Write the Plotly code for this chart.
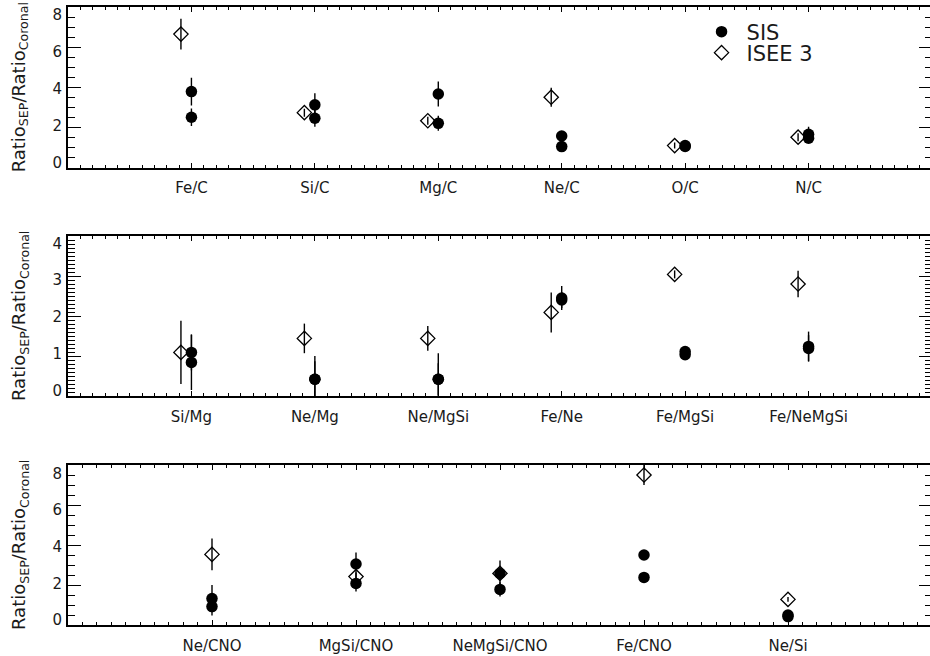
import plotly.graph_objects as go

# ---------------- data ----------------
TOP_CATS = ["Fe/C", "Si/C", "Mg/C", "Ne/C", "O/C", "N/C"]
TOP_SIS_A = [3.79, 3.13, 3.67, 1.58, 1.10, 1.66]
TOP_SIS_A_ERR = [0.69, 0.58, 0.62, 0.20, 0.10, 0.38]
TOP_SIS_B = [2.51, 2.46, 2.21, 1.05, 1.06, 1.47]
TOP_SIS_B_ERR = [0.44, 0.42, 0.37, 0.20, 0.10, 0.20]
TOP_ISEE = [6.65, 2.74, 2.34, 3.51, 1.10, 1.52]
TOP_ISEE_ERR = [0.77, 0.20, 0.20, 0.47, 0.15, 0.20]

MID_CATS = ["Si/Mg", "Ne/Mg", "Ne/MgSi", "Fe/Ne", "Fe/MgSi", "Fe/NeMgSi"]
MID_SIS_A = [1.09, 0.42, 0.42, 2.45, 1.11, 1.24]
MID_SIS_A_ERR = [0.45, 0.58, 0.65, 0.30, 0.08, 0.37]
MID_SIS_B = [0.84, 0.42, 0.42, 2.40, 1.03, 1.19]
MID_SIS_B_ERR = [0.69, 0.45, 0.40, 0.20, 0.08, 0.33]
MID_ISEE = [1.09, 1.44, 1.44, 2.09, 3.04, 2.80]
MID_ISEE_ERR = [0.79, 0.37, 0.31, 0.50, 0.10, 0.33]

BOT_CATS = ["Ne/CNO", "MgSi/CNO", "NeMgSi/CNO", "Fe/CNO", "Ne/Si"]
BOT_SIS_A = [1.32, 3.05, 2.58, 3.50, 0.50]
BOT_SIS_A_ERR = [0.68, 0.58, 0.64, 0.20, 0.10]
BOT_SIS_B = [0.92, 2.08, 1.78, 2.38, 0.42]
BOT_SIS_B_ERR = [0.45, 0.41, 0.36, 0.20, 0.10]
BOT_ISEE = [3.53, 2.42, 2.58, 7.50, 1.28]
BOT_ISEE_ERR = [0.79, 0.20, 0.30, 0.50, 0.12]

Y_TICKS_8 = [0, 2, 4, 6, 8]
Y_TICKS_4 = [0, 1, 2, 3, 4]

# ---------------- styling / layout ----------------
# The figure is 4 px wider than the window; the page clips it so that the
# right-hand frame line falls just outside the view, as in the reference.
W, H = 934, 656
ML, MR, MT, MB = 68, 0, 7, 31
PLOT_W = W - ML - MR
PLOT_H = H - MT - MB
FONT = "DejaVu Sans"
INK = "#000000"
TXT = "#1a1a1a"

panels = [
    dict(cats=TOP_CATS, sa=TOP_SIS_A, sae=TOP_SIS_A_ERR, sb=TOP_SIS_B, sbe=TOP_SIS_B_ERR,
         isee=TOP_ISEE, iseee=TOP_ISEE_ERR, yr=[0, 8], ticks=Y_TICKS_8, minor=0.5,
         lab_range=[-0.288, 8.434], top=7.0, bot=167.7, off=0.085),
    dict(cats=MID_CATS, sa=MID_SIS_A, sae=MID_SIS_A_ERR, sb=MID_SIS_B, sbe=MID_SIS_B_ERR,
         isee=MID_ISEE, iseee=MID_ISEE_ERR, yr=[0, 4], ticks=Y_TICKS_4, minor=0.1,
         lab_range=[-0.144, 4.198], top=236.0, bot=396.0, off=0.085),
    dict(cats=BOT_CATS, sa=BOT_SIS_A, sae=BOT_SIS_A_ERR, sb=BOT_SIS_B, sbe=BOT_SIS_B_ERR,
         isee=BOT_ISEE, iseee=BOT_ISEE_ERR, yr=[0, 8], ticks=Y_TICKS_8, minor=0.5,
         lab_range=[-0.272, 8.452], top=465.0, bot=625.0, off=0.0),
]


def dom(top_px, bot_px):
    return [1 - (bot_px - MT) / PLOT_H, 1 - (top_px - MT) / PLOT_H]


fig = go.Figure()
layout = dict(
    width=W, height=H,
    margin=dict(l=ML, r=MR, t=MT, b=MB, pad=0),
    paper_bgcolor="white", plot_bgcolor="white",
    font=dict(family=FONT, color=TXT, size=14),
    annotations=[],
)

err_style = dict(type="data", thickness=1.4, width=0, color=INK)
circle = dict(symbol="circle", size=11.5, color=INK, line=dict(width=0))
diamond = dict(symbol="diamond-open", size=11, color=INK, line=dict(width=1.3, color=INK))

for i, p in enumerate(panels):
    n = i + 1
    xa = "x" if n == 1 else f"x{n}"
    ya = "y" if n == 1 else f"y{n}"
    lab_ya = f"y{n + 3}"
    pos = list(range(1, len(p["cats"]) + 1))
    isee_pos = [v - p["off"] for v in pos]

    fig.add_trace(go.Scatter(
        x=isee_pos, y=p["isee"], mode="markers", name="ISEE 3",
        marker=diamond, error_y=dict(array=p["iseee"], **err_style),
        xaxis=xa, yaxis=ya, showlegend=(n == 1), legend="legend2"))
    fig.add_trace(go.Scatter(
        x=pos, y=p["sa"], mode="markers", name="SIS",
        marker=circle, error_y=dict(array=p["sae"], **err_style),
        xaxis=xa, yaxis=ya, showlegend=(n == 1), legend="legend"))
    fig.add_trace(go.Scatter(
        x=pos, y=p["sb"], mode="markers", name="SIS",
        marker=circle, error_y=dict(array=p["sbe"], **err_style),
        xaxis=xa, yaxis=ya, showlegend=False))
    # empty trace so the overlaid label axis is rendered
    fig.add_trace(go.Scatter(x=[None], y=[None], mode="markers", xaxis=xa, yaxis=lab_ya,
                             showlegend=False, hoverinfo="skip"))

    d = dom(p["top"], p["bot"])
    xkey = "xaxis" if n == 1 else f"xaxis{n}"
    ykey = "yaxis" if n == 1 else f"yaxis{n}"
    labkey = f"yaxis{n + 3}"

    layout[xkey] = dict(
        domain=[0, 1], anchor=ya, range=[0, len(p["cats"]) + 1],
        tickmode="array", tickvals=pos, ticktext=p["cats"],
        ticks="inside", ticklen=5, tickwidth=1.2, tickcolor=INK,
        minor=dict(tickmode="linear", tick0=0, dtick=0.1, ticks="inside",
                   ticklen=3, tickwidth=1, tickcolor=INK),
        showline=True, linewidth=1.5, linecolor=INK, mirror="ticks",
        showgrid=False, zeroline=False,
        tickfont=dict(family=FONT, size=15, color=TXT), ticklabelstandoff=6,
    )
    layout[ykey] = dict(
        domain=d, anchor=xa, range=p["yr"],
        tickmode="array", tickvals=p["ticks"], showticklabels=False,
        ticks="inside", ticklen=13, tickwidth=1.3, tickcolor=INK,
        minor=dict(tickmode="linear", tick0=0, dtick=p["minor"], ticks="inside",
                   ticklen=7, tickwidth=1, tickcolor=INK),
        showline=True, linewidth=1.5, linecolor=INK, mirror="ticks",
        showgrid=False, zeroline=False,
    )
    layout[labkey] = dict(
        overlaying=ya, anchor=xa, side="left", range=p["lab_range"],
        tickmode="array", tickvals=p["ticks"], ticktext=[str(t) for t in p["ticks"]],
        ticks="", showline=False, showgrid=False, zeroline=False, showticklabels=True,
        tickfont=dict(family=FONT, size=15, color=TXT), ticklabelstandoff=5,
    )
    layout["annotations"].append(dict(
        text="Ratio<sub>SEP</sub>/Ratio<sub>Coronal</sub>",
        xref="paper", x=0, xshift=-48, xanchor="center",
        yref=f"{ya} domain", y=0.5, yanchor="middle",
        textangle=-90, showarrow=False,
        font=dict(family=FONT, size=18, color=TXT),
    ))

leg_common = dict(xanchor="left", yanchor="middle", bgcolor="rgba(0,0,0,0)",
                  borderwidth=0, font=dict(family=FONT, size=21, color=TXT),
                  itemwidth=40, tracegroupgap=0)
layout["legend"] = dict(x=(698 - ML) / PLOT_W, y=1 - (32 - MT) / PLOT_H, **leg_common)
layout["legend2"] = dict(x=(698 - ML) / PLOT_W, y=1 - (53 - MT) / PLOT_H, **leg_common)

fig.update_layout(**layout)
fig.write_html(
    "out.html",
    config={"displayModeBar": False},
    post_script="document.body.style.margin='0px';document.body.style.overflow='hidden';",
)
